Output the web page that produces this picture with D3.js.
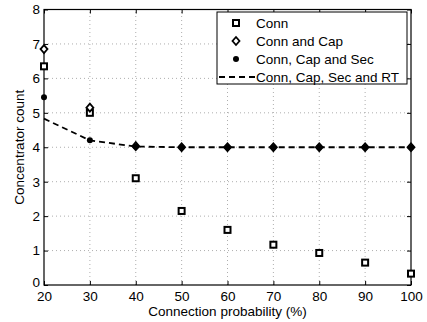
<!DOCTYPE html>
<html>
<head>
<meta charset="utf-8">
<script src="https://cdn.jsdelivr.net/npm/d3@7"></script>
<style>
  body { margin: 0; background: #fff; }
  svg { font-family: "Liberation Sans", Arial, sans-serif; }
</style>
</head>
<body>
<svg id="chart" width="427" height="322"></svg>
<script>
// x values (connection probability, %)
const probs = [20, 30, 40, 50, 60, 70, 80, 90, 100];
const conn = [6.35, 5.0, 3.1, 2.15, 1.6, 1.17, 0.93, 0.65, 0.33];
const connCap = [6.85, 5.15, 4.03, 4.0, 4.0, 4.0, 4.0, 4.0, 4.0];
const connCapSec = [5.45, 4.2, 4.02, 4.0, 4.0, 4.0, 4.0, 4.0, 4.0];
const connCapSecRt = [4.83, 4.2, 4.02, 4.0, 4.0, 4.0, 4.0, 4.0, 4.0];
const xTicks = [20, 30, 40, 50, 60, 70, 80, 90, 100];
const yTicks = [0, 1, 2, 3, 4, 5, 6, 7, 8];
const legendLabels = ['Conn', 'Conn and Cap', 'Conn, Cap and Sec', 'Conn, Cap, Sec and RT'];

const svg = d3.select('#chart');
const m = { left: 44, right: 16, top: 9.5, bottom: 37 };
const W = 427, H = 322;

const x = d3.scaleLinear().domain([20, 100]).range([m.left, W - m.right]);
const y = d3.scaleLinear().domain([0, 8]).range([H - m.bottom, m.top]);

// grid punteado
const grid = svg.append('g').attr('stroke', '#999').attr('stroke-width', 0.8)
  .attr('stroke-dasharray', '1,3');
xTicks.slice(1, -1).forEach(t => {
  grid.append('line').attr('x1', x(t)).attr('x2', x(t)).attr('y1', y(0)).attr('y2', y(8));
});
yTicks.slice(1, -1).forEach(t => {
  grid.append('line').attr('x1', x(20)).attr('x2', x(100)).attr('y1', y(t)).attr('y2', y(t));
});

// ejes estilo matlab: ticks hacia dentro y caja completa
const ax = svg.append('g');
ax.append('g').attr('transform', `translate(0,${y(0)})`)
  .call(d3.axisBottom(x).tickValues(xTicks).tickSizeInner(-4).tickSizeOuter(0).tickPadding(6))
  .call(g => g.select('.domain').remove());
ax.append('g').attr('class', 'y-left').attr('transform', `translate(${x(20)},0)`)
  .call(d3.axisLeft(y).tickValues(yTicks).tickSizeInner(-4).tickSizeOuter(0).tickPadding(4))
  .call(g => g.select('.domain').remove());
ax.append('g').attr('transform', `translate(0,${y(8)})`)
  .call(d3.axisTop(x).tickValues(xTicks).tickSizeInner(-4).tickSizeOuter(0).tickFormat(''))
  .call(g => g.select('.domain').remove());
ax.append('g').attr('transform', `translate(${x(100)},0)`)
  .call(d3.axisRight(y).tickValues(yTicks).tickSizeInner(-4).tickSizeOuter(0).tickFormat(''))
  .call(g => g.select('.domain').remove());
ax.selectAll('g').attr('font-family', null).attr('font-size', null);
ax.selectAll('.tick text').attr('font-size', 13.5).attr('fill', '#000');
ax.selectAll('.tick line').attr('stroke', '#000');
// el "0" queda pegado al "20", como en el original
ax.select('.y-left').selectAll('.tick text').filter(d => d === 0).attr('dy', '0.1em');

svg.append('rect')
  .attr('x', x(20)).attr('y', y(8))
  .attr('width', x(100) - x(20)).attr('height', y(0) - y(8))
  .attr('fill', 'none').attr('stroke', '#000').attr('stroke-width', 1.2);

// titulos de ejes
svg.append('text').attr('x', (x(20) + x(100)) / 2).attr('y', 316)
  .attr('text-anchor', 'middle').attr('font-size', 13.5).text('Connection probability (%)');
svg.append('text').attr('transform', `translate(24,${(y(0) + y(8)) / 2}) rotate(-90)`)
  .attr('text-anchor', 'middle').attr('font-size', 13.5).text('Concentrator count');

// linea discontinua (RT)
const line = d3.line().x((d, i) => x(probs[i])).y(d => y(d));
svg.append('path').datum(connCapSecRt).attr('d', line)
  .attr('fill', 'none').attr('stroke', '#000').attr('stroke-width', 1.8)
  .attr('stroke-dasharray', '6,4');

function drawSquare(g, px, py) {
  g.append('rect').attr('x', px - 3).attr('y', py - 3).attr('width', 6).attr('height', 6)
    .attr('fill', '#fff').attr('stroke', '#000').attr('stroke-width', 2);
}
function drawDiamond(g, px, py) {
  g.append('path').attr('d', 'M0,-4L3.5,0L0,4L-3.5,0Z').attr('transform', `translate(${px},${py})`)
    .attr('fill', '#fff').attr('stroke', '#000').attr('stroke-width', 1.8);
}
function drawDot(g, px, py) {
  g.append('circle').attr('cx', px).attr('cy', py).attr('r', 3).attr('fill', '#000');
}

const marks = svg.append('g');
conn.forEach((v, i) => drawSquare(marks, x(probs[i]), y(v)));
connCap.forEach((v, i) => drawDiamond(marks, x(probs[i]), y(v)));
connCapSec.forEach((v, i) => drawDot(marks, x(probs[i]), y(v)));

// leyenda
const lg = svg.append('g');
const lx = 217, ly = 12, lw = 190, lh = 72;
lg.append('rect').attr('x', lx).attr('y', ly).attr('width', lw).attr('height', lh)
  .attr('fill', '#fff').attr('stroke', '#000').attr('stroke-width', 1);
const rowY = [23, 41, 59, 77];
const sx = 236;
drawSquare(lg, sx, rowY[0]);
drawDiamond(lg, sx, rowY[1]);
drawDot(lg, sx, rowY[2]);
lg.append('line').attr('x1', lx + 2).attr('x2', 255).attr('y1', rowY[3]).attr('y2', rowY[3])
  .attr('stroke', '#000').attr('stroke-width', 1.8).attr('stroke-dasharray', '6,4');
legendLabels.forEach((t, i) => {
  lg.append('text').attr('x', 256).attr('y', rowY[i]).attr('dy', '0.35em')
    .attr('font-size', 13.5).text(t);
});
</script>
</body>
</html>
